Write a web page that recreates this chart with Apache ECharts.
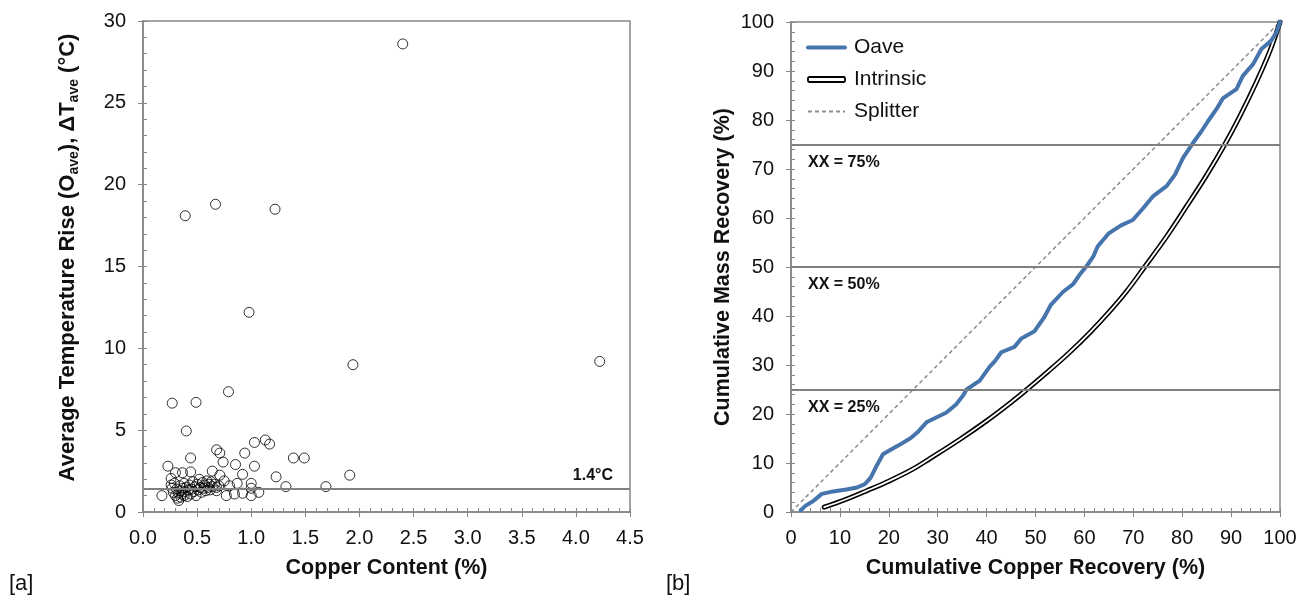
<!DOCTYPE html>
<html>
<head>
<meta charset="utf-8">
<script src="https://cdn.jsdelivr.net/npm/echarts@6/dist/echarts.min.js"></script>
<style>
  html, body { margin: 0; padding: 0; background: #fff; }
  #chart { width: 1313px; height: 605px; }
</style>
</head>
<body>
<div id="chart"></div>
<script>
// [a] Copper content (%) vs. average temperature rise (°C), one circle per sample
const copperContent = [
  2.40, 0.67, 1.22, 0.39, 0.98, 4.22, 1.94, 0.79, 0.27, 0.49, 0.40,
  1.03, 1.13, 1.17, 0.68, 0.71, 0.94, 0.74, 0.44, 1.39, 1.49, 0.855,
  1.03, 0.23, 0.30, 0.365, 0.44, 0.64, 0.71, 0.92, 1.23, 1.91, 0.26,
  0.75, 1.00, 0.87, 0.26, 1.32, 1.69, 0.80, 0.175, 0.77, 0.845, 0.92,
  1.00, 1.07, 1.00, 0.68, 0.33,
  0.28, 0.30, 0.31, 0.32, 0.33, 0.34, 0.35, 0.35, 0.36, 0.37, 0.38,
  0.38, 0.39, 0.40, 0.41, 0.42, 0.43, 0.44, 0.45, 0.46, 0.47, 0.48,
  0.49, 0.50, 0.51, 0.52, 0.53, 0.54, 0.55, 0.56, 0.57, 0.58, 0.59,
  0.60, 0.61, 0.62, 0.63, 0.64, 0.66, 0.68, 0.70, 0.29, 0.27
];
const tempRise = [
  28.6, 18.8, 18.5, 18.1, 12.2, 9.2, 9.0, 7.35, 6.65, 6.7, 4.95,
  4.25, 4.4, 4.15, 3.8, 3.6, 3.6, 3.05, 3.3, 3.3, 3.3, 2.9,
  2.8, 2.8, 2.4, 2.4, 2.45, 2.5, 2.25, 2.3, 2.15, 2.25, 2.05,
  1.9, 1.75, 1.75, 1.65, 1.55, 1.55, 1.6, 1.0, 1.0, 1.1, 1.15,
  1.0, 1.2, 1.45, 1.3, 0.7,
  1.2, 1.0, 1.4, 0.85, 1.15, 1.6, 1.3, 0.9, 1.1, 1.45, 1.75,
  1.0, 1.25, 1.5, 0.95, 1.35, 1.65, 1.1, 1.4, 1.85, 1.25, 1.55,
  1.0, 1.7, 1.35, 2.0, 1.5, 1.2, 1.8, 1.45, 1.65, 1.3, 1.9,
  1.5, 1.7, 1.35, 1.85, 1.55, 1.7, 1.5, 1.6, 1.75, 1.45
];
const ambientRise = 1.4;
const copperTicks = { min: 0, max: 4.5, interval: 0.5 };
const riseTicks = { min: 0, max: 30, interval: 5 };

// [b] Cumulative copper recovery (%) vs. cumulative mass recovery (%)
const oaveCuRec = [
  2.0, 3.0, 4.5, 6.3, 8.6, 11.3, 13.5, 15.1, 16.3, 17.6, 18.8, 20.2, 22.0, 24.5,
  26.1, 27.7, 29.7, 31.8, 33.8, 35.2, 35.9, 38.6, 40.6, 41.7, 43.0, 45.7, 47.1,
  49.8, 51.7, 53.1, 55.6, 57.7, 59.0, 60.4, 61.8, 62.7, 64.9, 67.5, 69.9, 72.0,
  74.0, 76.8, 78.5, 80.2, 82.2, 83.8, 85.3, 87.0, 88.3, 91.1, 92.4, 94.5, 96.2,
  98.2, 99.3, 100
];
const oaveMassRec = [
  0.35, 1.3, 2.2, 3.7, 4.2, 4.6, 5.0, 5.7, 7.0, 9.6, 11.8, 12.6, 13.6, 15.1,
  16.5, 18.3, 19.3, 20.3, 22.0, 23.8, 25.0, 26.8, 29.6, 30.8, 32.6, 33.7, 35.4,
  36.9, 39.6, 42.2, 44.9, 46.5, 48.4, 50.1, 52.1, 54.2, 56.8, 58.5, 59.6, 62.0,
  64.4, 66.5, 68.8, 72.3, 75.3, 77.5, 79.8, 82.2, 84.4, 86.3, 89.0, 91.4, 94.5,
  96.2, 97.9, 100
];
const intrinsicCuRec = [
  6.8, 11.3, 15.4, 20.2, 24.9, 28.4, 34.5, 40.0, 45.4, 48.1, 52.6, 57.0, 61.1,
  65.2, 68.6, 72.3, 76.8, 80.9, 84.9, 88.7, 91.8, 95.2, 97.9, 100
];
const intrinsicMassRec = [
  1.0, 2.6, 4.3, 6.4, 8.75, 10.9, 14.8, 18.6, 22.7, 24.9, 28.7, 32.6, 36.6,
  41.0, 45.0, 50.0, 56.2, 62.4, 68.6, 75.0, 80.8, 87.8, 94.0, 100
];
const splitterCuRec = [0, 100];
const splitterMassRec = [0, 100];
const xxLevels = [25, 50, 75];
const recoveryTicks = { min: 0, max: 100, interval: 10 };

const pairs = (xs, ys) => xs.map((x, i) => [x, ys[i]]);

const AXIS_GREY = '#868686';
const TEXT = '#111';
const FONT = 'Liberation Sans, Arial, sans-serif';
const TICK_FS = 20;
const TITLE_FS = 21.5;
const OAVE_BLUE = '#4674ac';

// Main axis: line, labels and inside ticks (major + minor)
function mainAxis(extra) {
  return Object.assign({
    type: 'value',
    axisLine: { show: true, onZero: false, lineStyle: { color: AXIS_GREY, width: 1.5 } },
    axisTick: { show: true, inside: true, length: 4, lineStyle: { color: AXIS_GREY, width: 1 } },
    minorTick: { show: true, splitNumber: 5, length: 4, lineStyle: { color: AXIS_GREY, width: 1 } },
    splitLine: { show: false },
    axisLabel: { color: TEXT, fontSize: TICK_FS, fontFamily: FONT, margin: 17 },
    nameLocation: 'middle',
    nameTextStyle: { color: TEXT, fontSize: TITLE_FS, fontWeight: 'bold', fontFamily: FONT }
  }, extra);
}
// Companion axis that only draws the outward half of the major ticks
function tickAxis(extra) {
  return Object.assign({
    type: 'value',
    axisLine: { show: false, onZero: false },
    axisTick: { show: true, inside: false, length: 5, lineStyle: { color: AXIS_GREY, width: 1 } },
    minorTick: { show: false },
    splitLine: { show: false },
    axisLabel: { show: false }
  }, extra);
}

const chart = echarts.init(document.getElementById('chart'), null, { renderer: 'canvas' });

chart.setOption({
  animation: false,
  backgroundColor: '#fff',
  textStyle: { fontFamily: FONT },
  title: [
    { text: '[a]', left: 4, top: 568, textStyle: { fontSize: 22, fontWeight: 'normal', color: TEXT, fontFamily: FONT } },
    { text: '[b]', left: 661, top: 568, textStyle: { fontSize: 22, fontWeight: 'normal', color: TEXT, fontFamily: FONT } }
  ],
  grid: [
    { left: 143, top: 21, width: 487, height: 491, show: true, borderColor: AXIS_GREY, borderWidth: 1.5, backgroundColor: 'transparent' },
    { left: 791, top: 22, width: 489, height: 490, show: true, borderColor: AXIS_GREY, borderWidth: 1.5, backgroundColor: 'transparent' }
  ],
  legend: {
    data: [
      { name: 'Oave', itemStyle: { opacity: 0 }, lineStyle: { width: 4, color: OAVE_BLUE } },
      { name: 'Intrinsic', icon: 'roundRect', itemStyle: { color: '#fff', borderColor: '#000', borderWidth: 1.8 } },
      { name: 'Splitter', itemStyle: { opacity: 0 } }
    ],
    orient: 'vertical',
    left: 806,
    top: 37,
    padding: 0,
    itemWidth: 37,
    itemHeight: 5,
    itemGap: 11,
    selectedMode: false,
    textStyle: { fontSize: 21, color: TEXT, fontFamily: FONT, padding: [0, 0, 0, 4] }
  },
  xAxis: [
    mainAxis(Object.assign({
      gridIndex: 0, position: 'bottom', name: 'Copper Content (%)', nameGap: 45,
      axisLabel: { color: TEXT, fontSize: TICK_FS, fontFamily: FONT, margin: 16, formatter: v => v.toFixed(1) }
    }, copperTicks)),
    tickAxis(Object.assign({ gridIndex: 0, position: 'bottom' }, copperTicks)),
    mainAxis(Object.assign({
      gridIndex: 1, position: 'bottom', name: 'Cumulative Copper Recovery (%)', nameGap: 45,
      axisLabel: { color: TEXT, fontSize: TICK_FS, fontFamily: FONT, margin: 16 }
    }, recoveryTicks)),
    tickAxis(Object.assign({ gridIndex: 1, position: 'bottom' }, recoveryTicks))
  ],
  yAxis: [
    mainAxis(Object.assign({
      gridIndex: 0, position: 'left', nameGap: 62,
      name: '{t|Average Temperature Rise (O}{s|ave}{t|), ΔT}{s|ave}{t| (°C)}',
      nameTextStyle: {
        color: TEXT, fontFamily: FONT,
        padding: [0, 0, 0, 18],
        rich: {
          t: { fontSize: 22, fontWeight: 'bold', color: TEXT, fontFamily: FONT, lineHeight: 26 },
          s: { fontSize: 14, fontWeight: 'bold', color: TEXT, fontFamily: FONT, lineHeight: 14, verticalAlign: 'bottom' }
        }
      }
    }, riseTicks)),
    tickAxis(Object.assign({ gridIndex: 0, position: 'left' }, riseTicks)),
    mainAxis(Object.assign({
      gridIndex: 1, position: 'left', name: 'Cumulative Mass Recovery (%)', nameGap: 57
    }, recoveryTicks)),
    tickAxis(Object.assign({ gridIndex: 1, position: 'left' }, recoveryTicks))
  ],
  series: [
    {
      name: 'Samples',
      type: 'scatter',
      xAxisIndex: 0, yAxisIndex: 0,
      symbol: 'circle',
      symbolSize: 10,
      itemStyle: { color: 'rgba(255,255,255,0)', borderColor: '#000', borderWidth: 1 },
      data: pairs(copperContent, tempRise),
      markLine: {
        silent: true,
        symbol: 'none',
        lineStyle: { color: '#808080', width: 2, type: 'solid' },
        label: {
          position: 'insideEndTop',
          distance: [17, 5],
          formatter: p => p.value + '°C',
          color: TEXT, fontSize: 16, fontWeight: 'bold', fontFamily: FONT
        },
        data: [{ yAxis: ambientRise }]
      }
    },
    {
      name: 'Splitter',
      type: 'line',
      xAxisIndex: 2, yAxisIndex: 2,
      symbol: 'none',
      itemStyle: { color: '#8c8c8c' },
      lineStyle: { color: '#8c8c8c', width: 1.5, type: [4, 3] },
      data: pairs(splitterCuRec, splitterMassRec),
      markLine: {
        silent: true,
        symbol: 'none',
        lineStyle: { color: '#808080', width: 2, type: 'solid' },
        label: {
          position: 'insideStartBottom',
          distance: [17, 10],
          formatter: p => 'XX = ' + p.value + '%',
          color: TEXT, fontSize: 16, fontWeight: 'bold', fontFamily: FONT
        },
        data: xxLevels.map(v => ({ yAxis: v }))
      }
    },
    {
      name: 'Intrinsic',
      type: 'line',
      xAxisIndex: 2, yAxisIndex: 2,
      symbol: 'none',
      smooth: 0.4,
      lineStyle: { color: '#000', width: 5, cap: 'round' },
      data: pairs(intrinsicCuRec, intrinsicMassRec)
    },
    {
      name: 'Intrinsic core',
      type: 'line',
      xAxisIndex: 2, yAxisIndex: 2,
      symbol: 'none',
      smooth: 0.4,
      lineStyle: { color: '#fff', width: 1.8, cap: 'round' },
      data: pairs(intrinsicCuRec, intrinsicMassRec)
    },
    {
      name: 'Oave',
      type: 'line',
      xAxisIndex: 2, yAxisIndex: 2,
      symbol: 'none',
      itemStyle: { color: OAVE_BLUE },
      lineStyle: { color: OAVE_BLUE, width: 4, join: 'round', cap: 'round' },
      data: pairs(oaveCuRec, oaveMassRec)
    }
  ]
});
</script>
</body>
</html>
